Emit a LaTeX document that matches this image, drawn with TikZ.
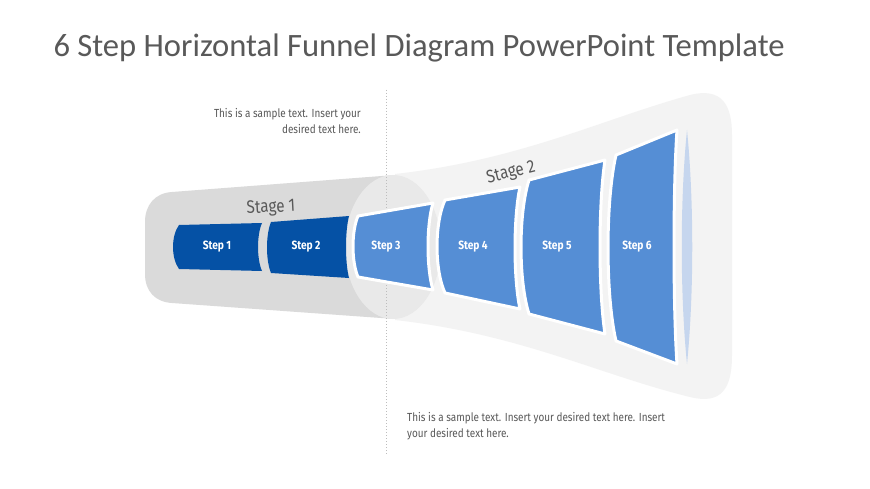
\documentclass[tikz,border=0pt]{standalone}
\usepackage{fontspec}
\setmainfont{Fira Sans}
\newfontfamily\titlefont{Carlito}
\newfontfamily\condfont[FakeStretch=0.85]{Fira Sans}
\definecolor{darkstep}{RGB}{5,81,165}
\definecolor{lightstep}{RGB}{85,142,213}
\definecolor{bandone}{RGB}{218,218,218}
\definecolor{mouth}{RGB}{233,233,233}
\definecolor{bandtwo}{RGB}{243,243,243}
\definecolor{lens}{RGB}{198,214,238}
\definecolor{txtgray}{RGB}{89,89,89}
\tikzstyle{dark} = [fill=darkstep]
\tikzstyle{light} = [fill=lightstep, draw=white, line width=3pt, line join=round]
\tikzstyle{steplabel} = [text=white, font=\condfont\bfseries\fontsize{12}{13}\selectfont]
\tikzstyle{stagelabel} = [text=txtgray, font=\condfont\fontsize{18}{20}\selectfont]
\tikzstyle{note} = [text=txtgray, inner sep=0pt, font=\condfont\fontsize{11.7}{16}\selectfont]

\begin{document}
\begin{tikzpicture}[x=1pt,y=-1pt]
\useasboundingbox[fill=white] (0,0) rectangle (870,489);

\node[anchor=west, text=txtgray, font=\titlefont\fontsize{32.6}{36}\selectfont] (title) at (50,48) {6 Step Horizontal Funnel Diagram PowerPoint Template};

\fill[bandtwo] (395,174) .. controls (520,160) and (600,120) .. (690,95) .. controls (722,87) and (732,105) .. (732,135) -- (732,355) .. controls (732,388) and (722,405) .. (690,397) .. controls (600,375) and (520,334) .. (395,320) -- cycle;
\fill[bandone] (395,175) -- (172,192) .. controls (155,193) and (145,205) .. (145,222) -- (145,274) .. controls (145,291) and (155,302) .. (172,303) -- (395,319) -- cycle;
\fill[mouth] (393,247) ellipse [x radius=48, y radius=72];

\coordinate (dtop) at (386,90);
\coordinate (dbot) at (386,455);
\draw[txtgray!40, line width=1pt, dotted] (dtop) -- (dbot);

\foreach \n/\xa/\ya/\yb/\xb/\yc/\yd/\bl/\br/\lx/\sty in {
1/179/225/269/262/223/271/6/4/217/dark,
2/271/222/273/349/216/278/4/3/306/dark,
3/358/216/277/433/203/290/5/5/386/light,
4/445/200/293/520/187/309/8/5/473/light,
5/529/180/314/605/160/334/8/5/557/light,
6/616/155/341/677/130/364/8/3/637/light}{
\path[\sty] (\xa,\ya) -- (\xb,\yc) .. controls ({\xb-1.33*\br},{\yc+0.25*(\yd-\yc)}) and ({\xb-1.33*\br},{\yc+0.75*(\yd-\yc)}) .. (\xb,\yd) -- (\xa,\yb) .. controls ({\xa-1.33*\bl},{\ya+0.75*(\yb-\ya)}) and ({\xa-1.33*\bl},{\ya+0.25*(\yb-\ya)}) .. (\xa,\ya) -- cycle;
\node[steplabel] (step\n) at (\lx,247) {Step \n};
}

\fill[lens] (687,130) .. controls (694,200) and (694,294) .. (687,364) .. controls (680,294) and (680,200) .. (687,130) -- cycle;

\node[stagelabel, rotate=3] (stageone) at (271,208) {Stage 1};
\node[stagelabel, rotate=14] (stagetwo) at (511,173) {Stage 2};

\node[note, anchor=north east, align=right] (noteone) at (361,108) {This is a sample text. Insert your\\desired text here.};
\node[note, anchor=north west, align=left] (notetwo) at (407,412) {This is a sample text. Insert your desired text here. Insert\\your desired text here.};
\end{tikzpicture}
\end{document}
